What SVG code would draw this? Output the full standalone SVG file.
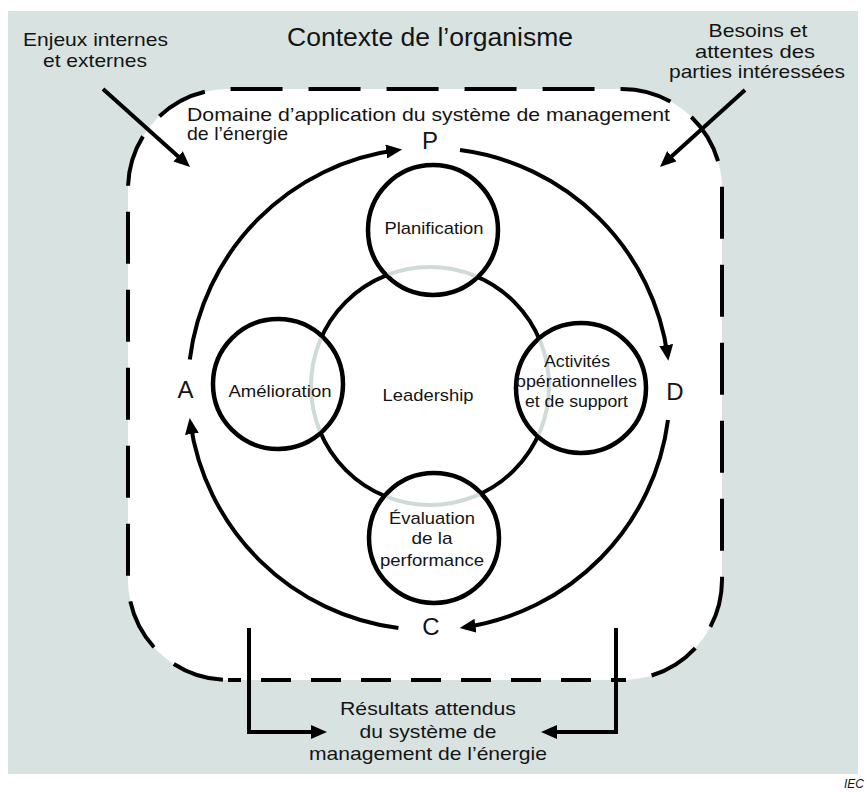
<svg xmlns="http://www.w3.org/2000/svg" width="867" height="792" viewBox="0 0 867 792">
<style>
.t{font-family:"Liberation Sans",Arial,Helvetica,sans-serif;fill:#141414;}
.m{text-anchor:middle;}
.ln{fill:none;stroke:#000;stroke-width:4;}
.circ{fill:#fff;stroke:#000;stroke-width:4.5;}
.ring{fill:none;stroke:#000;stroke-width:4;}
</style>
<defs>
<marker id="ah" markerUnits="userSpaceOnUse" markerWidth="16" markerHeight="14" viewBox="0 0 16 14" refX="11" refY="7" orient="auto">
<path d="M0,0 L16,7 L0,14 z" fill="#000"/>
</marker>
<clipPath id="inside">
<circle cx="433" cy="230" r="63"/>
<circle cx="278" cy="384" r="63"/>
<circle cx="581" cy="388" r="63"/>
<circle cx="434" cy="538" r="63"/>
</clipPath>
</defs>

<g id="context">
<rect x="8" y="11" width="850" height="763" fill="#D8E3E1"/>
<text class="t m" x="430" y="46" font-size="25" textLength="286" lengthAdjust="spacingAndGlyphs">Contexte de l’organisme</text>
</g>

<g id="scope">
<rect x="128" y="89" width="594" height="591" rx="100" fill="#fff"/>
<path class="ln" d="M228,680 A100,100 0 0 1 128,580 V189 A100,100 0 0 1 228,89 H622 A100,100 0 0 1 722,189 V580 A100,100 0 0 1 622,680" stroke-dasharray="52 26" stroke-dashoffset="72.8"/>
<path class="ln" d="M228,680 H622" stroke-dasharray="30 20" stroke-dashoffset="17"/>
<text class="t" x="187" y="121" font-size="18.5" textLength="483" lengthAdjust="spacingAndGlyphs">Domaine d’application du système de management</text>
<text class="t" x="187" y="140" font-size="18.5" textLength="101" lengthAdjust="spacingAndGlyphs">de l’énergie</text>
</g>

<g id="enjeux">
<text class="t m" x="95.5" y="46" font-size="19" textLength="145" lengthAdjust="spacingAndGlyphs">Enjeux internes</text>
<text class="t m" x="95" y="67" font-size="19" textLength="104" lengthAdjust="spacingAndGlyphs">et externes</text>
</g>

<g id="besoins">
<text class="t m" x="758" y="37" font-size="18.5" textLength="99" lengthAdjust="spacingAndGlyphs">Besoins et</text>
<text class="t m" x="755" y="58" font-size="18.5" textLength="120" lengthAdjust="spacingAndGlyphs">attentes des</text>
<text class="t m" x="757" y="78" font-size="18.5" textLength="176" lengthAdjust="spacingAndGlyphs">parties intéressées</text>
</g>

<g id="resultats">
<text class="t m" x="428" y="715" font-size="19" textLength="176" lengthAdjust="spacingAndGlyphs">Résultats attendus</text>
<text class="t m" x="428" y="738" font-size="19" textLength="137" lengthAdjust="spacingAndGlyphs">du système de</text>
<text class="t m" x="428" y="760" font-size="19" textLength="238" lengthAdjust="spacingAndGlyphs">management de l’énergie</text>
</g>

<g id="leadership">
<circle class="ring" cx="430" cy="386" r="119" fill="#fff"/>
</g>

<g id="planification">
<circle class="circ" cx="433" cy="230" r="65"/>
</g>
<g id="amelioration">
<circle class="circ" cx="278" cy="384" r="65"/>
</g>
<g id="activites">
<circle class="circ" cx="581" cy="388" r="65"/>
</g>
<g id="evaluation">
<circle class="circ" cx="434" cy="538" r="65"/>
</g>

<g id="ring-overlap" clip-path="url(#inside)">
<circle cx="430" cy="386" r="119" fill="none" stroke="#CFDBD9" stroke-width="4"/>
</g>

<g id="labels">
<text class="t m" x="428" y="401" font-size="17" textLength="91" lengthAdjust="spacingAndGlyphs">Leadership</text>
<text class="t m" x="434" y="234" font-size="17" textLength="99" lengthAdjust="spacingAndGlyphs">Planification</text>
<text class="t m" x="280" y="397" font-size="17" textLength="103" lengthAdjust="spacingAndGlyphs">Amélioration</text>
<text class="t m" x="577" y="367" font-size="17" textLength="66" lengthAdjust="spacingAndGlyphs">Activités</text>
<text class="t m" x="576.5" y="387" font-size="17" textLength="121" lengthAdjust="spacingAndGlyphs">opérationnelles</text>
<text class="t m" x="576.5" y="407" font-size="17" textLength="103" lengthAdjust="spacingAndGlyphs">et de support</text>
<text class="t m" x="432" y="524" font-size="17" textLength="86" lengthAdjust="spacingAndGlyphs">Évaluation</text>
<text class="t m" x="432" y="544" font-size="17" textLength="41" lengthAdjust="spacingAndGlyphs">de la</text>
<text class="t m" x="432" y="566" font-size="17" textLength="104" lengthAdjust="spacingAndGlyphs">performance</text>
</g>

<g id="pdca">
<text class="t m" x="430" y="149" font-size="24">P</text>
<text class="t m" x="675" y="400" font-size="24">D</text>
<text class="t m" x="431" y="635" font-size="24">C</text>
<text class="t m" x="185.5" y="398" font-size="24">A</text>
</g>

<g id="connectors">
<path class="ln" d="M189.8,359.6 A241,241 0 0 1 397.1,150.1" marker-end="url(#ah)"/>
<path class="ln" d="M460,150 A241,241 0 0 1 667.7,355.9" marker-end="url(#ah)"/>
<path class="ln" d="M668,420 A241,241 0 0 1 464.6,627.3" marker-end="url(#ah)"/>
<path class="ln" d="M398.4,628 A241,241 0 0 1 190.4,423" marker-end="url(#ah)"/>
<path class="ln" d="M103,89 L186.3,163.7" stroke-width="4.5" marker-end="url(#ah)"/>
<path class="ln" d="M745,90 L663.7,163.6" stroke-width="4.5" marker-end="url(#ah)"/>
<path class="ln" d="M249,628 V732 H322" stroke-width="4.5" marker-end="url(#ah)"/>
<path class="ln" d="M616,628 V732 H546" stroke-width="4.5" marker-end="url(#ah)"/>
</g>

<text class="t" x="864" y="788" font-size="12" font-style="italic" text-anchor="end">IEC</text>
</svg>
